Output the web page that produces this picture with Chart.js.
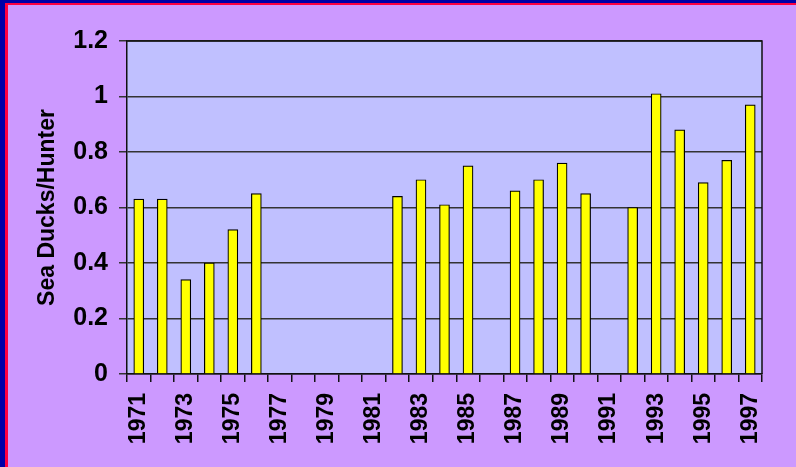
<!DOCTYPE html>
<html>
<head>
<meta charset="utf-8">
<script src="https://cdn.jsdelivr.net/npm/chart.js@4/dist/chart.umd.min.js"></script>
<style>
  html, body { margin: 0; padding: 0; }
  body { width: 796px; height: 467px; background: #CC99FF; position: relative; overflow: hidden; }
  #frame { position: absolute; left: 0; top: 0; width: 796px; height: 467px; }
  .edge { position: absolute; }
  #blueLeft { left: 0; top: 0; width: 5px; height: 467px; background: #0000A8; }
  #blueTop { left: 0; top: 0; width: 796px; height: 3px; background: #0000A8; }
  #redLeft { left: 5px; top: 3px; width: 3px; height: 464px; background: #FF0040; }
  #redTop { left: 5px; top: 3px; width: 791px; height: 2px; background: #FF0040; }
</style>
</head>
<body>
<div id="frame"><canvas id="chart" width="796" height="467"></canvas></div>
<div class="edge" id="blueLeft"></div>
<div class="edge" id="blueTop"></div>
<div class="edge" id="redLeft"></div>
<div class="edge" id="redTop"></div>
<script>
// data
const years = ['1971','1972','1973','1974','1975','1976','1977','1978','1979','1980','1981','1982','1983','1984',
  '1985','1986','1987','1988','1989','1990','1991','1992','1993','1994','1995','1996','1997'];
const duckRatio = [0.63, 0.63, 0.34, 0.40, 0.52, 0.65, null, null, null, null, null, 0.64, 0.70, 0.61,
  0.75, null, 0.66, 0.70, 0.76, 0.65, null, 0.60, 1.01, 0.88, 0.69, 0.77, 0.97];
const yTicks = ['0', '0.2', '0.4', '0.6', '0.8', '1', '1.2'];
const yTitle = 'Sea Ducks/Hunter';

// plot-area background and the top/right frame lines
const plotBox = {
  id: 'plotBox',
  beforeDraw(chart) {
    const { ctx, chartArea: a } = chart;
    ctx.save();
    ctx.fillStyle = '#C0C0FF';
    ctx.fillRect(a.left, a.top, a.right - a.left, a.bottom - a.top);
    ctx.restore();
  },
  afterDraw(chart) {
    const { ctx, chartArea: a } = chart;
    ctx.save();
    ctx.strokeStyle = '#111';
    ctx.lineWidth = 1.5;
    ctx.beginPath();
    ctx.moveTo(a.left, a.top);
    ctx.lineTo(a.right, a.top);
    ctx.lineTo(a.right, a.bottom);
    ctx.stroke();
    ctx.restore();
  }
};

const family = '"Liberation Sans", Arial, sans-serif';

new Chart(document.getElementById('chart'), {
  type: 'bar',
  data: {
    labels: years,
    datasets: [{
      data: duckRatio,
      backgroundColor: '#FFFF00',
      borderColor: '#000',
      borderWidth: 1.2,
      barThickness: 10
    }]
  },
  options: {
    responsive: false,
    animation: false,
    layout: { padding: { left: 10, top: 41, right: 34, bottom: 0 } },
    plugins: { legend: { display: false }, tooltip: { enabled: false } },
    scales: {
      x: {
        afterFit: s => { s.height = 93; },
        grid: { offset: true, drawOnChartArea: false, drawTicks: true, tickLength: 8, color: '#111', lineWidth: 1.5 },
        border: { display: true, color: '#111', width: 1.5 },
        ticks: {
          autoSkip: false,
          minRotation: 90,
          maxRotation: 90,
          padding: 11,
          color: '#000',
          font: { family, weight: 'bold', size: 23 },
          callback: (v, i) => (i % 2 === 0 ? years[i] : '')
        }
      },
      y: {
        min: 0,
        max: 1.2,
        afterFit: s => { s.width = 117; },
        grid: { color: '#333', lineWidth: 1.5, drawTicks: true, tickLength: 8 },
        border: { display: true, color: '#111', width: 1.5 },
        ticks: {
          stepSize: 0.2,
          padding: 11,
          color: '#000',
          font: { family, weight: 'bold', size: 25 },
          callback: (v, i) => yTicks[i]
        },
        title: {
          display: true,
          text: yTitle,
          color: '#000',
          font: { family, weight: 'bold', size: 23 },
          padding: { top: 24, bottom: 0 }
        }
      }
    }
  },
  plugins: [plotBox]
});
</script>
</body>
</html>
